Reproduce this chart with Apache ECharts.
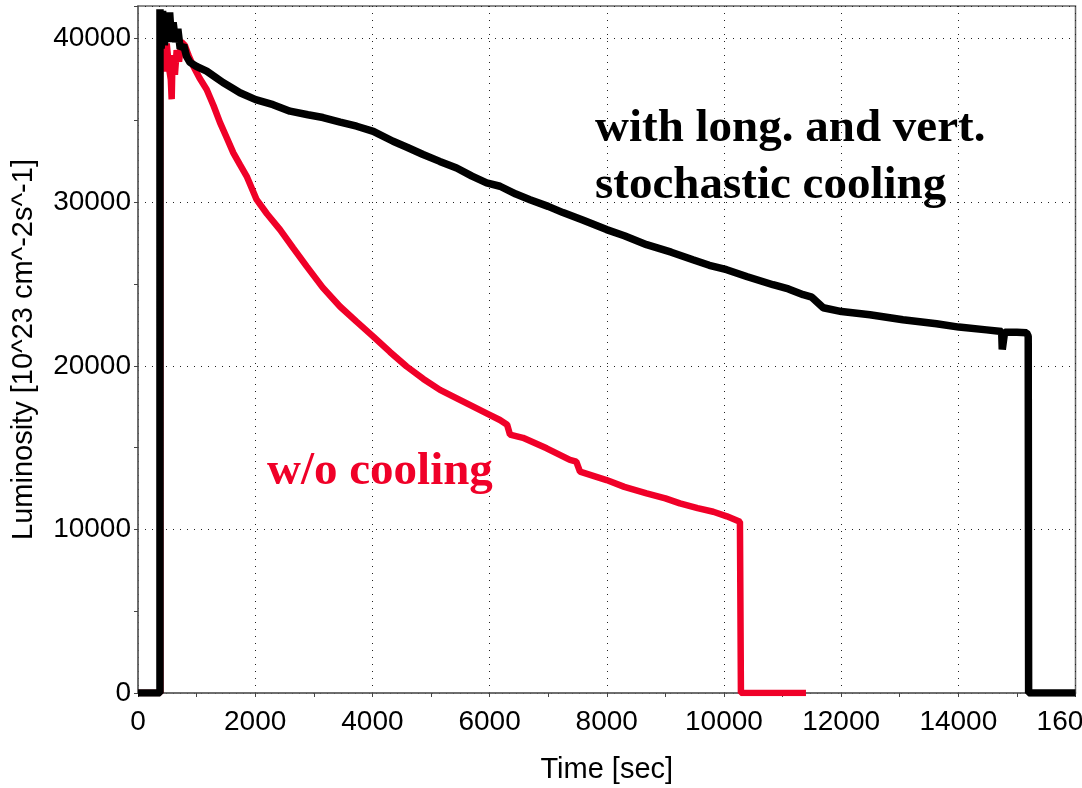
<!DOCTYPE html>
<html>
<head>
<meta charset="utf-8">
<script src="https://cdn.jsdelivr.net/npm/echarts@6/dist/echarts.min.js"></script>
<style>
  html, body { margin: 0; padding: 0; background: #fff; }
  #chart { width: 1082px; height: 788px; }
</style>
</head>
<body>
<div id="chart"></div>
<script>
// luminosity traces: time [sec] and luminosity [10^23 cm^-2 s^-1]
const cooledTime = [0, 375, 375, 395, 420, 450, 480, 510, 540, 570, 600, 640, 680, 720, 780, 830, 887, 1000, 1172, 1300, 1450, 1600, 1740, 2008, 2305, 2594, 2900, 3157, 3450, 3732, 4016, 4353, 4600, 4865, 5150, 5438, 5700, 5950, 6178, 6450, 6690, 7000, 7253, 7600, 7997, 8300, 8680, 9100, 9471, 9750, 10046, 10400, 10837, 11100, 11353, 11500, 11695, 12008, 12491, 13055, 13629, 14010, 14482, 14740, 14750, 14780, 14790, 15000, 15165, 15193, 15200, 16000];
const cooledLum = [0, 0, 41800, 39400, 41700, 39600, 41500, 39800, 41600, 40000, 41000, 39800, 40600, 39400, 39600, 38900, 38550, 38300, 38020, 37700, 37320, 37000, 36700, 36280, 35970, 35570, 35350, 35180, 34900, 34650, 34340, 33730, 33350, 32920, 32500, 32100, 31600, 31190, 30980, 30500, 30160, 29750, 29370, 28900, 28330, 27950, 27410, 26950, 26490, 26150, 25880, 25450, 24960, 24700, 24350, 24200, 23550, 23320, 23120, 22820, 22570, 22370, 22200, 22100, 21000, 21000, 22050, 22050, 22020, 21800, 0, 0];

const uncooledTime = [0, 380, 380, 410, 450, 490, 530, 560, 575, 590, 630, 660, 700, 740, 800, 860, 944, 1050, 1172, 1290, 1400, 1520, 1627, 1740, 1855, 2025, 2200, 2423, 2650, 2879, 3150, 3447, 3730, 4016, 4300, 4585, 4870, 5154, 5450, 5722, 5950, 6177, 6300, 6348, 6570, 6974, 7372, 7480, 7543, 7997, 8300, 8680, 9000, 9249, 9550, 9818, 10050, 10273, 10290, 11400];
const uncooledLum = [0, 0, 37800, 39500, 38000, 39700, 38200, 37500, 36300, 39000, 37800, 39300, 38600, 39800, 39600, 39000, 38320, 37600, 36900, 35900, 34870, 33900, 33020, 32300, 31590, 30160, 29300, 28330, 27200, 26080, 24800, 23630, 22700, 21790, 20850, 19960, 19200, 18530, 18000, 17510, 17100, 16690, 16400, 15800, 15600, 14960, 14250, 14150, 13530, 13020, 12600, 12210, 11900, 11590, 11300, 11080, 10800, 10470, 0, 0];

const xTicks = [0, 16000, 2000];   // min, max, step
const yTicks = [0, 42000, 10000];

const zip = (a, b) => a.map((v, i) => [v, b[i]]);

const chart = echarts.init(document.getElementById("chart"));
const labelFont = { color: "#000", fontFamily: "Liberation Sans", fontSize: 28 };
const nameFont = { color: "#000", fontFamily: "Liberation Sans", fontSize: 29 };
const gridLine = { show: true, lineStyle: { color: "#222", width: 1, type: [1, 6] } };
const plain = (v) => String(v); // no thousands separator

chart.setOption({
  animation: false,
  grid: {
    left: 138, right: 6.5, top: 6, bottom: 95,
    outerBoundsMode: "none",
    containLabel: false,
    show: true, borderColor: "#666", borderWidth: 1.5
  },
  xAxis: {
    type: "value",
    min: xTicks[0], max: xTicks[1], interval: xTicks[2],
    name: "Time [sec]",
    nameLocation: "middle",
    nameGap: 62,
    nameTextStyle: nameFont,
    axisLine: { lineStyle: { color: "#666", width: 1.5 } },
    axisTick: { length: 4, lineStyle: { color: "#444" } },
    minorTick: { show: true, splitNumber: 2, length: 4, lineStyle: { color: "#444" } },
    axisLabel: Object.assign({ margin: 15, formatter: plain, hideOverlap: false }, labelFont),
    splitLine: gridLine
  },
  yAxis: {
    type: "value",
    min: yTicks[0], max: yTicks[1], interval: yTicks[2],
    name: "Luminosity [10^23 cm^-2s^-1]",
    nameLocation: "middle",
    nameGap: 100,
    nameTextStyle: nameFont,
    axisLine: { show: true, lineStyle: { color: "#666", width: 1.5 } },
    axisTick: { show: true, length: 4, lineStyle: { color: "#444" } },
    minorTick: { show: true, splitNumber: 2, length: 4, lineStyle: { color: "#444" } },
    axisLabel: Object.assign({ margin: 7, showMaxLabel: false, formatter: plain }, labelFont),
    splitLine: gridLine
  },
  series: [
    {
      name: "w/o cooling",
      type: "line",
      data: zip(uncooledTime, uncooledLum),
      showSymbol: false,
      lineStyle: { color: "#f00028", width: 6.5 },
      z: 2
    },
    {
      name: "with long. and vert. stochastic cooling",
      type: "line",
      data: zip(cooledTime, cooledLum),
      showSymbol: false,
      lineStyle: { color: "#000", width: 7.5 },
      z: 3
    }
  ],
  graphic: [
    {
      type: "text", x: 595, y: 129, z: 10,
      style: { text: "with long. and vert.", font: "bold 47px 'Liberation Serif'", fill: "#000", verticalAlign: "middle" }
    },
    {
      type: "text", x: 595, y: 186, z: 10,
      style: { text: "stochastic cooling", font: "bold 47px 'Liberation Serif'", fill: "#000", verticalAlign: "middle" }
    },
    {
      type: "text", x: 267, y: 472, z: 10,
      style: { text: "w/o cooling", font: "bold 47px 'Liberation Serif'", fill: "#f00028", verticalAlign: "middle" }
    }
  ]
});
</script>
</body>
</html>
